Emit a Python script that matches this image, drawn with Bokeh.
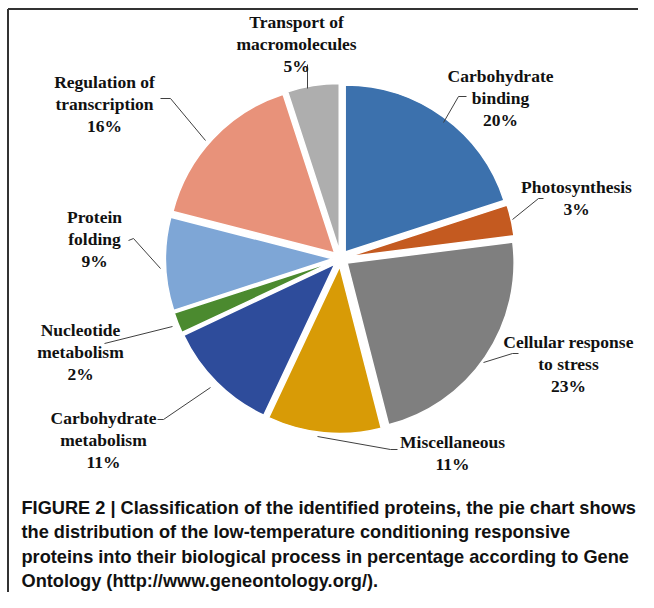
import math
from bokeh.plotting import figure
from bokeh.models import Range1d, ColumnDataSource
from bokeh.core.properties import value
from bokeh.embed import file_html
from bokeh.resources import INLINE

# ---------------- data ----------------
categories = [
    "Carbohydrate\nbinding",
    "Photosynthesis",
    "Cellular response\nto stress",
    "Miscellaneous",
    "Carbohydrate\nmetabolism",
    "Nucleotide\nmetabolism",
    "Protein\nfolding",
    "Regulation of\ntranscription",
    "Transport of\nmacromolecules",
]
percent = [20, 3, 23, 11, 11, 2, 9, 16, 5]
colors = ["#3C71AD", "#C45A20", "#7F7F7F", "#D89B06", "#2E4C9B",
          "#4B8A2F", "#7EA6D6", "#E8927A", "#AEAEAE"]
caption_lines = [
    "FIGURE 2 | Classification of the identified proteins, the pie chart shows",
    "the distribution of the low-temperature conditioning responsive",
    "proteins into their biological process in percentage according to Gene",
    "Ontology (http://www.geneontology.org/).",
]

# ---------------- layout (picture pixel coordinates, y down) ----------------
W, H = 638, 592
def px(x):
    return x
def py(y):
    return H - y

CX, CY = px(340), py(258)   # pie centre
R = 167                     # radius (px)
D = 8                       # explode distance (px)
LH = 22                     # label line height

# centre of first line of each label
label_anchor = [(500, 75), (576, 186), (568, 341), (452, 441), (103, 417),
                (80, 329), (94, 216), (104, 81), (296, 21)]
leaders = [
    [(466, 96), (458, 96), (443, 122)],
    [(543, 198), (538, 198), (512, 219)],
    [(518, 353), (512, 353), (483, 362)],
    [(397, 449), (390, 449), (317, 436)],
    [(157, 419), (163, 419), (210, 387)],
    [(104, 343), (172, 326)],
    [(128, 240), (133, 238), (160, 268)],
    [(160, 98), (170, 98), (205, 140)],
    [(307, 64), (307, 88)],
]
caption_x = 21
caption_centers = [507, 531.5, 556, 580.5]

# ---------------- figure ----------------
p = figure(width=W, height=H, output_backend="svg", toolbar_location=None,
           x_axis_type=None, y_axis_type=None,
           x_range=Range1d(0, W), y_range=Range1d(0, H),
           min_border=0, outline_line_color=None,
           background_fill_color="white", border_fill_color="white")
p.min_border_left = p.min_border_right = p.min_border_top = p.min_border_bottom = 0
p.grid.visible = False

# frame (top & left edges)
p.segment(x0=[7.5, 7.5], y0=[py(8.5), 0], x1=[W, 7.5], y1=[py(8.5), py(8.5)],
          line_color="#333333", line_width=2)

# wedges
total = float(sum(percent))
xs, ys, starts, ends = [], [], [], []
cum = 0.0
for v in percent:
    a1 = cum / total * 360.0
    a2 = (cum + v) / total * 360.0
    mid = math.radians((a1 + a2) / 2.0)
    xs.append(CX + D * math.sin(mid))
    ys.append(CY + D * math.cos(mid))
    starts.append(math.radians(90.0 - a2))
    ends.append(math.radians(90.0 - a1))
    cum += v

src = ColumnDataSource(dict(x=xs, y=ys, start=starts, end=ends, color=colors))
p.wedge(x="x", y="y", radius=R, start_angle="start", end_angle="end",
        direction="anticlock", fill_color="color", line_color="white",
        line_width=1.5, source=src)

# leader lines
p.multi_line(xs=[[px(a) for a, b in L] for L in leaders],
             ys=[[py(b) for a, b in L] for L in leaders],
             line_color="#404040", line_width=1)

# labels
lx, ly, lt = [], [], []
for name, v, (ax, ay) in zip(categories, percent, label_anchor):
    lines = name.split("\n") + ["%d%%" % v]
    for i, t in enumerate(lines):
        lx.append(px(ax))
        ly.append(py(ay + i * LH))
        lt.append(t)
p.text(x=lx, y=ly, text=lt, text_align="center", text_baseline="middle",
       text_font=value("Liberation Serif"), text_font_style="bold",
       text_font_size="17.5px", text_color="#111111")

# caption
p.text(x=[px(caption_x)] * len(caption_lines),
       y=[py(b) for b in caption_centers], text=caption_lines,
       text_align="left", text_baseline="middle",
       text_font=value("Liberation Sans"), text_font_style="bold",
       text_font_size="18.2px", text_color="#111111")

open("out.html", "w").write(file_html(p, INLINE))
